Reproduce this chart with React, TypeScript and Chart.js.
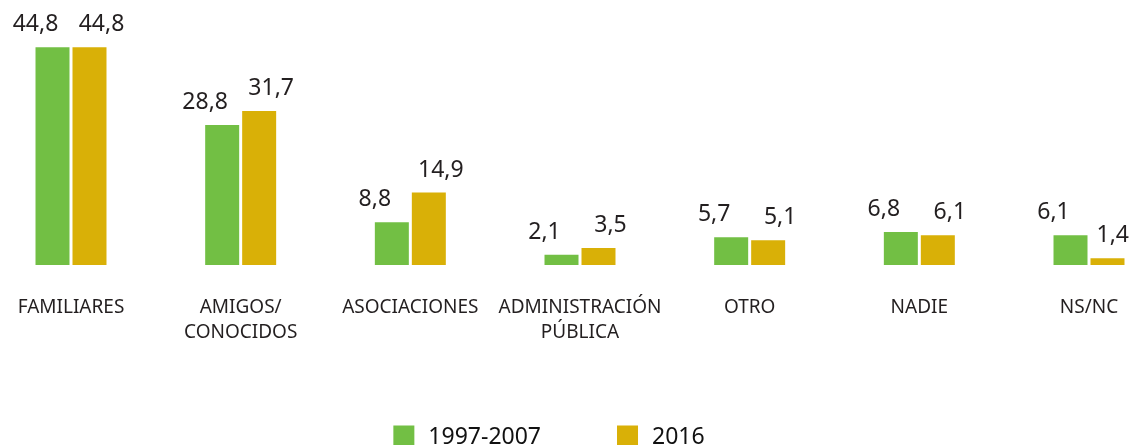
import React, { useEffect, useRef } from "react";
import { Chart, registerables } from "chart.js";

Chart.register(...registerables);

const categories: (string | string[])[] = [
  "FAMILIARES",
  ["AMIGOS/", "CONOCIDOS"],
  "ASOCIACIONES",
  ["ADMINISTRACIÓN", "PÚBLICA"],
  "OTRO",
  "NADIE",
  "NS/NC",
];
const seriesNames = ["1997-2007", "2016"];
const values1997_2007 = [44.8, 28.8, 8.8, 2.1, 5.7, 6.8, 6.1];
const values2016 = [44.8, 31.7, 14.9, 3.5, 5.1, 6.1, 1.4];
const colors = ["#72BF44", "#D9B007"];

const TEXT = "#231F20";
const FONT = "'Noto Sans', sans-serif";

const dataLabelPlugin = {
  id: "dataLabels",
  afterDatasetsDraw(chart: any) {
    const ctx = chart.ctx;
    ctx.save();
    ctx.font = `23px ${FONT}`;
    ctx.fillStyle = TEXT;
    ctx.textAlign = "center";
    ctx.textBaseline = "alphabetic";
    chart.data.datasets.forEach((ds: any, di: number) => {
      const meta = chart.getDatasetMeta(di);
      const shift = di === 0 ? -17 : 12;
      meta.data.forEach((bar: any, i: number) => {
        const v = ds.data[i] as number;
        const txt = v.toFixed(1).replace(".", ",");
        const w = ctx.measureText(txt).width;
        let cx = bar.x + shift;
        const maxX = chart.width - 2 - w / 2;
        const minX = 2 + w / 2;
        if (cx > maxX) cx = maxX;
        if (cx < minX) cx = minX;
        ctx.fillText(txt, cx, bar.y - 16);
      });
    });
    ctx.restore();
  },
};

const customLegendPlugin = {
  id: "customLegend",
  afterDraw(chart: any) {
    const ctx = chart.ctx;
    ctx.save();
    ctx.font = `23px ${FONT}`;
    ctx.textBaseline = "middle";
    ctx.textAlign = "left";
    const box = 21;
    const gapText = 14;
    const gapItem = 76;
    const items = chart.data.datasets.map((ds: any) => ({
      label: ds.label,
      color: ds.backgroundColor,
      w: box + gapText + ctx.measureText(ds.label).width,
    }));
    const total =
      items.reduce((s: number, it: any) => s + it.w, 0) + gapItem * (items.length - 1);
    let x = 549 - total / 2;
    const cy = 436;
    items.forEach((it: any) => {
      ctx.fillStyle = it.color;
      ctx.fillRect(x, cy - box / 2, box, box);
      ctx.fillStyle = "#111";
      ctx.fillText(it.label, x + box + gapText, cy + 1);
      x += it.w + gapItem;
    });
    ctx.restore();
  },
};

export default function App() {
  const ref = useRef<HTMLCanvasElement | null>(null);

  useEffect(() => {
    if (!ref.current) return;
    const chart = new Chart(ref.current, {
      type: "bar",
      data: {
        labels: categories,
        datasets: [
          {
            label: seriesNames[0],
            data: values1997_2007,
            backgroundColor: colors[0],
            categoryPercentage: 0.436,
            barPercentage: 0.919,
            clip: false as any,
          },
          {
            label: seriesNames[1],
            data: values2016,
            backgroundColor: colors[1],
            categoryPercentage: 0.436,
            barPercentage: 0.919,
            clip: false as any,
          },
        ],
      },
      options: {
        responsive: false,
        animation: false,
        layout: { padding: { left: 71, right: 42, top: 22, bottom: 100 } },
        plugins: {
          legend: { display: false },
          tooltip: { enabled: false },
        },
        scales: {
          x: {
            offset: false,
            grid: { display: false, drawTicks: false },
            border: { display: false },
            ticks: {
              autoSkip: false,
              maxRotation: 0,
              minRotation: 0,
              padding: 30,
              color: TEXT,
              font: { family: FONT, size: 19, lineHeight: "25px" as any },
            },
            afterFit(scale: any) {
              scale.paddingLeft = 0;
              scale.paddingRight = 0;
              scale.height = 80;
            },
          },
          y: {
            display: false,
            min: 0,
            max: 50,
          },
        },
      },
      plugins: [dataLabelPlugin, customLegendPlugin],
    });
    return () => chart.destroy();
  }, []);

  return (
    <div style={{ position: "absolute", left: 0, top: 0, width: 1131, height: 445 }}>
      <canvas ref={ref} width={1131} height={445} style={{ width: 1131, height: 445 }} />
    </div>
  );
}
